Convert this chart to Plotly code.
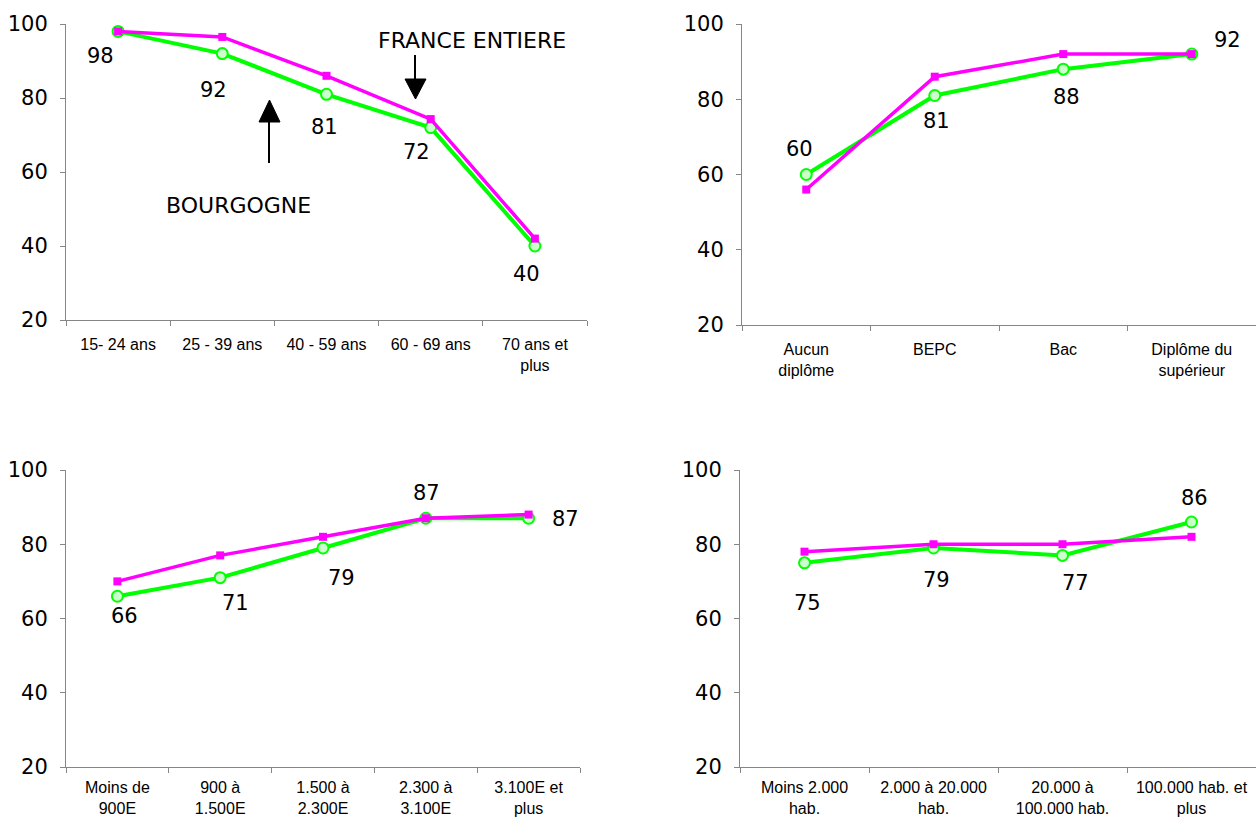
import plotly.graph_objects as go

W, H = 1256, 826

# ---------------- data ----------------
age_cats = ["15- 24 ans", "25 - 39 ans", "40 - 59 ans", "60 - 69 ans", "70 ans et<br>plus"]
age_bourgogne = [98, 92, 81, 72, 40]
age_france = [98, 96.5, 86, 74.3, 42]

dipl_cats = ["Aucun<br>diplôme", "BEPC", "Bac", "Diplôme du<br>supérieur"]
dipl_bourgogne = [60, 81, 88, 92]
dipl_france = [56, 86, 92, 92]

rev_cats = ["Moins de<br>900E", "900 à<br>1.500E", "1.500 à<br>2.300E", "2.300 à<br>3.100E", "3.100E et<br>plus"]
rev_bourgogne = [66, 71, 79, 87, 87]
rev_france = [70, 77, 82, 87, 88]

taille_cats = ["Moins 2.000<br>hab.", "2.000 à 20.000<br>hab.", "20.000 à<br>100.000 hab.", "100.000 hab. et<br>plus"]
taille_bourgogne = [75, 79, 77, 86]
taille_france = [78, 80, 80, 82]

y_ticks = [20, 40, 60, 80, 100]

# ---------------- styling ----------------
GREEN = "#00FF00"
MAGENTA = "#FF00FF"
AXIS = "#868686"
LABEL_FONT = dict(family="DejaVu Sans", size=21, color="#000000")


def px_x(x):
    return x / W


def px_y(y):
    return 1 - y / H


panels = [
    # cats, bourgogne, france, x-domain px, y-domain px (bottom, top), label offsets (dx, dy down)
    (age_cats, age_bourgogne, age_france, (66, 587), (320, 24),
     [(-18, 25), (-9, 36), (-2, 33), (-14, 24), (-8, 28)], 25),
    (dipl_cats, dipl_bourgogne, dipl_france, (742, 1256), (325, 24),
     [(-7, -25), (2, 26), (3, 28), (36, -14)], 25),
    (rev_cats, rev_bourgogne, rev_france, (66, 580), (767, 470),
     [(7, 20), (15, 25), (18, 30), (1, -25), (37, 1)], 21),
    (taille_cats, taille_bourgogne, taille_france, (740, 1256), (767, 470),
     [(3, 40), (3, 32), (13, 28), (3, -24)], 21),
]

fig = go.Figure()
annotations = []
layout_axes = {}

for i, (cats, bour, fra, xd, yd, offs, standoff) in enumerate(panels, start=1):
    xa = "x" if i == 1 else f"x{i}"
    ya = "y" if i == 1 else f"y{i}"
    fig.add_trace(go.Scatter(
        x=cats, y=bour, xaxis=xa, yaxis=ya, mode="lines+markers",
        line=dict(color=GREEN, width=4),
        marker=dict(symbol="circle", size=11, color="#CCFFCC",
                    line=dict(color=GREEN, width=2)),
        showlegend=False, name="Bourgogne", cliponaxis=False))
    fig.add_trace(go.Scatter(
        x=cats, y=fra, xaxis=xa, yaxis=ya, mode="lines+markers",
        line=dict(color=MAGENTA, width=3.5),
        marker=dict(symbol="square", size=8, color=MAGENTA,
                    line=dict(color=MAGENTA, width=0)),
        showlegend=False, name="France entière", cliponaxis=False))

    xkey = "xaxis" if i == 1 else f"xaxis{i}"
    ykey = "yaxis" if i == 1 else f"yaxis{i}"
    layout_axes[xkey] = dict(
        domain=[px_x(xd[0]), px_x(xd[1])], anchor=ya, type="category",
        categoryorder="array", categoryarray=cats, automargin=False,
        range=[-0.5, len(cats) - 0.5],
        tickson="boundaries", ticks="outside", ticklen=5, tickcolor=AXIS,
        showline=True, linecolor=AXIS, linewidth=1, showgrid=False,
        zeroline=False, fixedrange=True, ticklabelstandoff=standoff - 15,
        tickfont=dict(family="Liberation Sans", size=16, color="#000000"))
    layout_axes[ykey] = dict(
        domain=[px_y(yd[0]), px_y(yd[1])], anchor=xa, range=[20, 100],
        tickvals=y_ticks, ticks="outside", ticklen=5, tickcolor=AXIS,
        showline=True, linecolor=AXIS, linewidth=1, showgrid=False,
        zeroline=False, ticklabelstandoff=8, automargin=False,
        tickfont=dict(family="DejaVu Sans", size=21, color="#000000"))

    for c, v, (dx, dy) in zip(cats, bour, offs):
        annotations.append(dict(
            x=c, y=v, xref=xa, yref=ya, text=str(v), showarrow=False,
            xshift=dx, yshift=-dy, font=LABEL_FONT,
            xanchor="center", yanchor="middle"))

# text notes of chart 1
annotations.append(dict(x=px_x(472), y=px_y(41), xref="paper", yref="paper",
                        text="FRANCE ENTIERE", showarrow=False,
                        font=dict(family="DejaVu Sans", size=22, color="#000000"),
                        xanchor="center", yanchor="middle"))
annotations.append(dict(x=px_x(238), y=px_y(206), xref="paper", yref="paper",
                        text="BOURGOGNE", showarrow=False,
                        font=dict(family="DejaVu Sans", size=22, color="#000000"),
                        xanchor="center", yanchor="middle"))

shapes = [
    # France entière arrow (down)
    dict(type="line", xref="paper", yref="paper",
         x0=px_x(415), x1=px_x(415), y0=px_y(55), y1=px_y(80),
         line=dict(color="#000000", width=2)),
    dict(type="path", xref="paper", yref="paper",
         path=f"M {px_x(405)},{px_y(79)} L {px_x(426)},{px_y(79)} L {px_x(415.5)},{px_y(99)} Z",
         fillcolor="#000000", line=dict(color="#000000", width=1)),
    # Bourgogne arrow (up)
    dict(type="line", xref="paper", yref="paper",
         x0=px_x(269), x1=px_x(269), y0=px_y(163), y1=px_y(121),
         line=dict(color="#000000", width=2)),
    dict(type="path", xref="paper", yref="paper",
         path=f"M {px_x(259)},{px_y(122)} L {px_x(280)},{px_y(122)} L {px_x(269.5)},{px_y(100)} Z",
         fillcolor="#000000", line=dict(color="#000000", width=1)),
]

fig.update_layout(
    width=W, height=H, margin=dict(l=0, r=0, t=0, b=0, autoexpand=False),
    paper_bgcolor="#FFFFFF", plot_bgcolor="#FFFFFF",
    showlegend=False, annotations=annotations, shapes=shapes,
    **layout_axes)

fig.write_html("out.html", config={"displayModeBar": False},
               post_script="document.body.style.margin='0';"
                           "document.body.style.overflow='hidden';")
